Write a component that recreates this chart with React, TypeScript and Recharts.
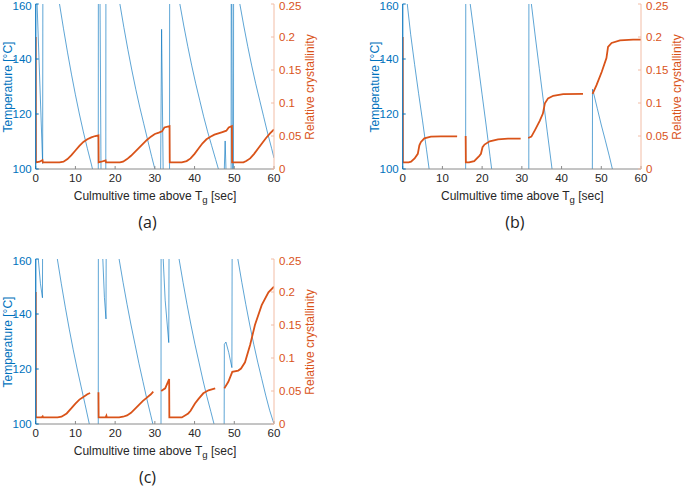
import React from 'react';
import { LineChart, Line, XAxis, YAxis } from 'recharts';

type Pt = [number, number | null];

const xTicks = [0, 10, 20, 30, 40, 50, 60];
const tempTicks = [100, 120, 140, 160];
const crystTicks = [0, 0.05, 0.1, 0.15, 0.2, 0.25];

// temperature traces, values above 160 / below 100 run off the axes and get clipped
const tempA: Pt[] = [
	[0, 98], [0.05, 220], [0.35, 160], [1.75, 102], [1.85, 220],
	[6, 160], [7, 151], [8, 142.5], [9, 134.5], [10, 127], [11, 120], [12, 113.5], [13, 107.5], [14, 101.8], [14.3, 100], [14.5, 98],
	[15.75, 98], [15.8, 220], [16.2, 160], [16.45, 98], [17.65, 98], [17.7, 220],
	[21.2, 160], [22.2, 151.5], [23.2, 143.5], [24.2, 136], [25.2, 129], [26.2, 122.5], [27.2, 116.5], [28.2, 110.5], [29.2, 104.5], [30, 100], [30.2, 98],
	[31.45, 98], [31.7, 150.8], [32.1, 98], [33.7, 98], [33.75, 220],
	[36.3, 160], [37.3, 152], [38.3, 144.5], [39.3, 137.5], [40.3, 131], [41.3, 125], [42.3, 119], [43.3, 113.5], [44.3, 108.5], [45.3, 103.5], [46, 100], [46.2, 98],
	[47.45, 98], [47.7, 110.2], [47.95, 98], [49.2, 98], [49.25, 220], [49.55, 98], [49.8, 98], [49.85, 220],
	[51.4, 160], [52.4, 152], [53.4, 144.5], [54.4, 137.5], [55.4, 131], [56.4, 125], [57.4, 119], [58.4, 113], [59.4, 107.5], [60, 104],
];

const crystA: Pt[] = [
	[0, 0.2], [0.05, 0.01], [1, 0.011], [1.7, 0.0135], [1.8, 0.01], [6, 0.01], [7, 0.011], [8, 0.015], [9, 0.021], [10, 0.028], [11, 0.035], [12, 0.041], [13, 0.045], [14, 0.048], [15, 0.05], [15.8, 0.051],
	[15.85, 0.01], [16.5, 0.011], [17.6, 0.013], [17.7, 0.01], [21.2, 0.01], [22, 0.011], [23, 0.015], [24, 0.02], [25, 0.026], [26, 0.032], [27, 0.038], [28, 0.044], [29, 0.049], [30, 0.053], [31, 0.055], [31.8, 0.057], [32.4, 0.063], [33.7, 0.065],
	[33.75, 0.01], [36.8, 0.01], [38, 0.012], [39, 0.016], [40, 0.023], [41, 0.031], [42, 0.039], [43, 0.045], [44, 0.049], [45, 0.052], [46, 0.054], [47, 0.056], [48, 0.058], [48.6, 0.063], [49.4, 0.065],
	[49.45, 0.01], [52.3, 0.01], [53, 0.012], [54, 0.016], [55, 0.023], [56, 0.031], [57, 0.039], [58, 0.047], [59, 0.054], [60, 0.06],
];

const tempB: Pt[] = [
	[0, 98], [0.02, 220], [1.15, 160], [2, 149], [3, 138], [4, 127.5], [5, 117.5], [6, 107], [6.65, 100], [6.8, 98],
	[15.85, 98], [15.9, 220], [17, 160], [18, 149], [19, 138], [20, 127], [21, 116], [22, 104.5], [22.4, 100], [22.6, 98],
	[31.75, 98], [31.8, 220], [32.4, 160], [33.4, 148], [34.4, 136.5], [35.4, 125], [36.4, 113.5], [37.6, 100], [37.8, 98],
	[47.75, 98], [47.8, 129], [48, 128], [49, 122], [50, 116], [51, 110.5], [52, 104.8], [52.8, 100], [53, 98],
];

const crystB: Pt[] = [
	[0, 0.2], [0.05, 0.01], [1.5, 0.01], [2.1, 0.011], [3, 0.016], [3.8, 0.023], [4.2, 0.036], [4.6, 0.041], [5.45, 0.0465], [7.1, 0.049], [9.6, 0.0495], [13.7, 0.0495], [13.8, null],
	[15.85, 0.05], [15.9, 0.01], [16.7, 0.01], [18, 0.012], [19.3, 0.02], [19.7, 0.023], [20.1, 0.033], [20.6, 0.037], [21.9, 0.042], [24, 0.045], [26.5, 0.046], [29.7, 0.046], [29.8, null],
	[31.6, 0.047], [32.4, 0.049], [33.3, 0.059], [34.5, 0.073], [35.3, 0.084], [35.8, 0.0995], [36.6, 0.107], [37.9, 0.111], [40.4, 0.1135], [45.4, 0.1138], [45.5, null],
	[47.8, 0.114], [48.8, 0.127], [50.1, 0.147], [51.3, 0.168], [51.7, 0.185], [52.6, 0.191], [54.7, 0.195], [58, 0.196], [60, 0.196],
];

const tempC: Pt[] = [
	[0, 98], [0.05, 220], [0.65, 160], [1.2, 151], [1.7, 145.9], [1.85, 220],
	[5.45, 160], [6.45, 151], [7.45, 142.5], [8.45, 134.5], [9.45, 127], [10.45, 120], [11.45, 113.5], [12.45, 107], [13.5, 100], [13.7, 98],
	[15.75, 98], [15.8, 220], [16.9, 160], [17.3, 146], [17.7, 138.2], [17.85, 220],
	[21, 160], [22, 151.5], [23, 143.5], [24, 136], [25, 129], [26, 122], [27, 115.5], [28, 109], [29, 103], [29.5, 100], [29.7, 98],
	[31.55, 98], [31.6, 220], [32.1, 160], [32.6, 145], [33.5, 129.6], [33.7, 220],
	[36.1, 160], [37.1, 151.5], [38.1, 143.5], [39.1, 136], [40.1, 129], [41.1, 122.5], [42.1, 116], [43.1, 110], [44.1, 104.5], [44.9, 100], [45.1, 98],
	[47.45, 98], [47.5, 129], [47.9, 129.8], [48.6, 126], [49.4, 120.5], [49.55, 220],
	[50.9, 160], [51.9, 151.5], [52.9, 143.5], [53.9, 136], [54.9, 129], [55.9, 122.5], [56.9, 116.5], [57.9, 110.5], [58.9, 105], [60, 100],
];

const crystC: Pt[] = [
	[0, 0.2], [0.05, 0.01], [1.5, 0.01], [1.75, 0.0115], [1.85, 0.01], [5.5, 0.01], [6.5, 0.011], [7.8, 0.016], [9, 0.024], [10, 0.031], [11, 0.037], [12, 0.041], [13, 0.045], [13.7, 0.047], [13.8, null],
	[15.8, 0.048], [15.85, 0.01], [17.6, 0.01], [17.8, 0.0125], [17.9, 0.01], [21, 0.01], [22, 0.011], [23, 0.013], [24, 0.017], [25, 0.023], [26, 0.029], [27, 0.035], [28, 0.04], [29, 0.045], [29.6, 0.049], [29.7, null],
	[31.6, 0.05], [32.6, 0.054], [33.6, 0.068], [33.65, 0.01], [36.8, 0.01], [38.4, 0.016], [39, 0.02], [40.1, 0.031], [41, 0.038], [42.2, 0.0465], [43.5, 0.051], [45.2, 0.054], [45.3, null],
	[47.5, 0.054], [48.5, 0.064], [49.5, 0.079], [51, 0.081], [51.7, 0.084], [52.7, 0.0935], [54, 0.12], [55.2, 0.15], [56.9, 0.18], [58.6, 0.1995], [60, 0.208],
];

const BLUE = '#0072BD';
const ORANGE = '#D95319';
const FONT = '"Liberation Sans", Arial, sans-serif';

const toRows = (pts: Pt[]) => pts.map(([t, v]) => ({ t, v }));

type PanelProps = { temp: Pt[]; cryst: Pt[]; left: number; top: number; tag: string };

function Panel({ temp, cryst, left, top, tag }: PanelProps) {
	const tickFont = { fontSize: 11.5, fontFamily: FONT };
	return (
		<div style={{ position: 'absolute', left, top, width: 340, height: 240 }}>
			<LineChart width={340} height={200} margin={{ top: 4, right: 26, bottom: 11, left: 0 }}>
				<XAxis
					xAxisId="b"
					type="number"
					dataKey="t"
					domain={[0, 60]}
					ticks={xTicks}
					allowDataOverflow
					height={20}
					stroke="#8a8a8a"
					tickSize={-3}
					tickMargin={8}
					tick={{ ...tickFont, fill: '#262626' }}
				/>
				<XAxis
					xAxisId="top"
					orientation="top"
					type="number"
					dataKey="t"
					domain={[0, 60]}
					ticks={xTicks}
					allowDataOverflow
					height={0}
					stroke="#8a8a8a"
					tickSize={-3}
					tick={false}
				/>
				<YAxis
					yAxisId="T"
					type="number"
					domain={[100, 160]}
					ticks={tempTicks}
					allowDataOverflow
					width={35.7}
					stroke={BLUE}
					tickSize={-3}
					tickMargin={7}
					tick={{ ...tickFont, fill: BLUE }}
				/>
				<YAxis
					yAxisId="X"
					orientation="right"
					type="number"
					domain={[0, 0.25]}
					ticks={crystTicks}
					allowDataOverflow
					width={40}
					stroke="#f2bda6"
					tickSize={-3}
					tickMargin={8}
					tick={{ ...tickFont, fill: ORANGE }}
				/>
				<Line
					xAxisId="b"
					yAxisId="T"
					data={toRows(temp)}
					dataKey="v"
					type="linear"
					stroke={BLUE}
					strokeOpacity={0.8}
					strokeWidth={0.8}
					dot={false}
					isAnimationActive={false}
				/>
				<Line
					xAxisId="b"
					yAxisId="X"
					data={toRows(cryst)}
					dataKey="v"
					type="linear"
					stroke={ORANGE}
					strokeWidth={1.8}
					dot={false}
					isAnimationActive={false}
				/>
			</LineChart>
			<div
				style={{
					position: 'absolute', left: 155, top: 196.5, transform: 'translate(-50%,-50%)',
					whiteSpace: 'nowrap', fontFamily: FONT, fontSize: 12, color: '#262626',
				}}
			>
				Culmultive time above T<span style={{ fontSize: '0.8em', verticalAlign: '-0.35em' }}>g</span> [sec]
			</div>
			<div
				style={{
					position: 'absolute', left: 7.5, top: 86.5, transform: 'translate(-50%,-50%) rotate(-90deg)',
					whiteSpace: 'nowrap', fontFamily: FONT, fontSize: 12, lineHeight: '13px', color: BLUE,
				}}
			>
				Temperature [°C]
			</div>
			<div
				style={{
					position: 'absolute', left: 310, top: 86.5, transform: 'translate(-50%,-50%) rotate(-90deg)',
					whiteSpace: 'nowrap', fontFamily: FONT, fontSize: 12, lineHeight: '13px', color: ORANGE,
				}}
			>
				Relative crystallinity
			</div>
			<div
				style={{
					position: 'absolute', left: 147.5, top: 222, transform: 'translate(-50%,-50%)',
					whiteSpace: 'nowrap', fontFamily: '"Open Sans", sans-serif', fontSize: 16, color: '#222',
				}}
			>
				{tag}
			</div>
		</div>
	);
}

export default function App() {
	return (
		<div style={{ position: 'absolute', left: 0, top: 0, width: 685, height: 490, background: '#fff', overflow: 'hidden' }}>
			<Panel temp={tempA} cryst={crystA} left={0} top={0} tag="(a)" />
			<Panel temp={tempB} cryst={crystB} left={367.3} top={0} tag="(b)" />
			<Panel temp={tempC} cryst={crystC} left={0} top={255} tag="(c)" />
		</div>
	);
}
